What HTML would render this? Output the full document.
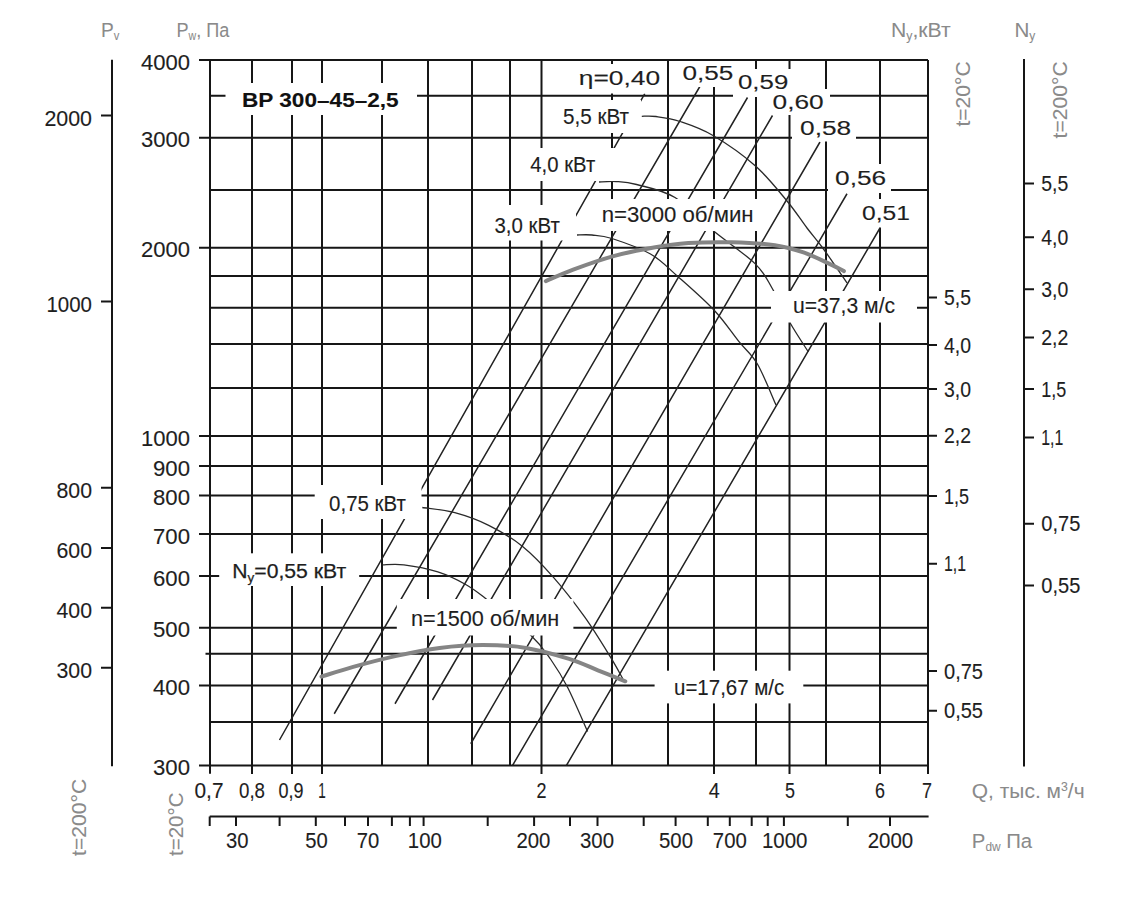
<!DOCTYPE html>
<html><head><meta charset="utf-8"><style>
html,body{margin:0;padding:0;background:#fff;}
svg{display:block;font-family:"Liberation Sans",sans-serif;}
</style></head><body>
<svg width="1146" height="920" viewBox="0 0 1146 920">
<rect width="1146" height="920" fill="#fff"/>
<path d="M252 60V765.5M292 60V765.5M322 60V765.5M382 60V765.5M428 60V765.5M472 60V765.5M510 60V765.5M541.5 60V765.5M612 60V765.5M668 60V765.5M714 60V765.5M756 60V765.5M789.5 60V765.5M826 60V765.5M880 60V765.5M210 95.75H928M210 137.75H928M210 190H928M210 247.75H928M210 276H928M210 307.75H928M210 344H928M210 388H928M210 436H928M210 466H928M210 495.5H928M210 534H928M210 576H928M210 627.75H928M210 653.75H928M210 685.5H928M210 722H928M210 60V773.75M928 60V774M199 60H928M199 765.5H928M199 137.75H210M199 247.75H210M199 436H210M199 466H210M199 495.5H210M199 534H210M199 576H210M199 627.75H210M199 685.5H210M205.5 653.75H210M252 765.5V774M292 765.5V774M322 765.5V774M541.5 765.5V774M714 765.5V774M789.5 765.5V774M880 765.5V774M928 297.5H937M928 345H937M928 389H937M928 435.7H937M928 496H937M928 563.7H937M928 671H937M928 710.8H937M112 59.7V766.2M101 115.6H112M101 301.6H112M101 487.8H112M101 547.9H112M101 607.8H112M101 667.8H112M1024 59V766.6M1024 183.5H1034M1024 237.2H1034M1024 289.3H1034M1024 337.6H1034M1024 389.1H1034M1024 437.4H1034M1024 523.7H1034M1024 585.6H1034M209.7 816.5H928.6M209.7 816.5V826M236 816.5V826M279.6 816.5V826M315.8 816.5V826M345 816.5V826M368 816.5V826M391.9 816.5V826M409.9 816.5V826M423.6 816.5V826M487.7 816.5V826M534.1 816.5V826M570 816.5V826M597.5 816.5V826M643.7 816.5V826M675.6 816.5V826M707.8 816.5V826M729.8 816.5V826M751.7 816.5V826M767.7 816.5V826M783.9 816.5V826M847.8 816.5V826M890 816.5V826" stroke="#161616" stroke-width="2.0" fill="none"/>
<path d="M279.5 740L644.8 93.7M334.25 713.75L700 86.25M395 703.75L747.5 97.5M432.5 700L772.5 115.5M470.75 743.75L820 142M512.5 765.5L847 193.75M566.4 765.5L880 228" stroke="#222" stroke-width="1.5" fill="none"/>
<path d="M641.8 116.3C644.2 116.3 649.6 115.6 656 116.5C662.4 117.4 670.5 118.3 680 121.5C689.5 124.7 700.4 128.1 713 135.5C725.6 142.9 743.2 155.1 755.5 166C767.8 176.9 778.4 190.7 787 201C795.6 211.3 800.9 220.0 807 228C813.1 236.0 816.8 239.8 823.5 249C830.2 258.2 843.1 277.3 847 283M599 182C601.8 181.9 609.7 181.1 616 181.5C622.3 181.9 626.8 181.8 636.6 184.5C646.4 187.2 662.3 189.8 675 197.5C687.7 205.2 699.7 219.5 713 230.5C726.3 241.5 745.2 254.0 755 263.6C764.8 273.2 766.2 278.1 772 288C777.8 297.9 783.9 312.1 790 322.8C796.1 333.5 805.3 347.1 808.4 352M577 235C579.5 235.0 586.2 234.4 592 235C597.8 235.6 602.2 235.3 612 238.5C621.8 241.7 639.5 247.7 650.5 254C661.5 260.3 667.1 267.1 677.8 276.5C688.4 285.9 704.2 299.6 714.4 310.5C724.6 321.4 731.8 332.8 739 341.7C746.2 350.6 751.2 353.4 757.4 364C763.6 374.6 772.9 398.2 776 405M422.3 507.5C427.7 508.4 443.7 509.6 454.8 512.6C465.9 515.6 477.4 519.6 488.7 525.3C500.0 530.9 511.8 537.8 522.6 546.5C533.4 555.2 543.3 565.8 553.7 577.6C564.1 589.4 575.4 604.0 584.8 617.2C594.2 630.4 603.9 646.4 610.2 656.7C616.6 667.0 620.8 675.3 622.9 679M382.7 564.9C386.2 564.9 394.7 563.7 403.9 564.9C413.1 566.1 427.4 568.6 437.8 571.9C448.2 575.2 458.1 580.2 466.1 584.7C474.1 589.2 475.1 590.3 485.9 598.8C496.7 607.3 520.2 625.4 531 635.5C541.8 645.6 544.7 650.8 550.8 659.5C556.9 668.2 561.7 675.8 567.8 687.8C573.9 699.8 584.3 724.3 587.6 731.6" stroke="#2a2a2a" stroke-width="1.3" fill="none"/>
<rect x="225.5" y="83" width="191.5" height="32" fill="#fff"/>
<rect x="572" y="64" width="94" height="29.5" fill="#fff"/>
<rect x="676" y="61" width="64" height="26" fill="#fff"/>
<rect x="733" y="69" width="62" height="28" fill="#fff"/>
<rect x="766" y="89" width="64" height="26" fill="#fff"/>
<rect x="792" y="114" width="64" height="27.5" fill="#fff"/>
<rect x="828" y="164" width="63" height="29" fill="#fff"/>
<rect x="856" y="199" width="60" height="28.5" fill="#fff"/>
<rect x="548" y="100" width="93" height="33" fill="#fff"/>
<rect x="517" y="148" width="108" height="33" fill="#fff"/>
<rect x="481" y="205" width="95" height="35.5" fill="#fff"/>
<rect x="590" y="199" width="175" height="32" fill="#fff"/>
<rect x="771" y="291" width="146" height="31.5" fill="#fff"/>
<rect x="314.7" y="485" width="106.80000000000001" height="34" fill="#fff"/>
<rect x="219.2" y="553.3" width="140.0" height="32.700000000000045" fill="#fff"/>
<rect x="396.8" y="599" width="176.59999999999997" height="36.5" fill="#fff"/>
<rect x="654.6" y="670.7" width="148.69999999999993" height="32.69999999999993" fill="#fff"/>
<path d="M545.8 281.1C550.4 279.2 561.9 273.8 573.2 269.6C584.5 265.4 600.1 259.8 613.5 256.1C626.9 252.4 641.3 249.7 653.8 247.5C666.3 245.3 675.4 244.0 688.4 243.1C701.4 242.2 717.2 242.0 731.6 242.3C746.0 242.7 762.8 243.5 774.8 245.2C786.8 246.9 794.4 249.3 803.5 252.4C812.6 255.5 822.8 260.8 829.5 263.9C836.2 267.0 841.5 269.9 843.9 271.1M321.5 676.6C326.8 675.0 340.7 670.4 353.2 666.9C365.7 663.4 382.0 659.1 396.4 655.9C410.8 652.7 425.2 649.7 439.6 647.9C454.0 646.1 468.4 645.0 482.8 645C497.2 645.0 511.6 645.6 526 647.9C540.4 650.2 557.1 655.1 569.1 658.8C581.1 662.5 588.5 666.5 597.9 670.3C607.3 674.0 620.7 679.5 625.3 681.3" stroke="#858585" stroke-width="4" fill="none" stroke-linecap="round"/>
<text x="141" y="69.5" font-size="21.3" fill="#1e1e1e" font-weight="normal" stroke="#1e1e1e" stroke-width="0.12" textLength="49.0" lengthAdjust="spacingAndGlyphs">4000</text>
<text x="141" y="147.25" font-size="21.3" fill="#1e1e1e" font-weight="normal" stroke="#1e1e1e" stroke-width="0.12" textLength="49.0" lengthAdjust="spacingAndGlyphs">3000</text>
<text x="141" y="257.25" font-size="21.3" fill="#1e1e1e" font-weight="normal" stroke="#1e1e1e" stroke-width="0.12" textLength="49.0" lengthAdjust="spacingAndGlyphs">2000</text>
<text x="141" y="445.5" font-size="21.3" fill="#1e1e1e" font-weight="normal" stroke="#1e1e1e" stroke-width="0.12" textLength="49.0" lengthAdjust="spacingAndGlyphs">1000</text>
<text x="153" y="475.5" font-size="21.3" fill="#1e1e1e" font-weight="normal" stroke="#1e1e1e" stroke-width="0.12" textLength="37.0" lengthAdjust="spacingAndGlyphs">900</text>
<text x="153" y="505.0" font-size="21.3" fill="#1e1e1e" font-weight="normal" stroke="#1e1e1e" stroke-width="0.12" textLength="37.0" lengthAdjust="spacingAndGlyphs">800</text>
<text x="153" y="543.5" font-size="21.3" fill="#1e1e1e" font-weight="normal" stroke="#1e1e1e" stroke-width="0.12" textLength="37.0" lengthAdjust="spacingAndGlyphs">700</text>
<text x="153" y="585.5" font-size="21.3" fill="#1e1e1e" font-weight="normal" stroke="#1e1e1e" stroke-width="0.12" textLength="37.0" lengthAdjust="spacingAndGlyphs">600</text>
<text x="153" y="637.25" font-size="21.3" fill="#1e1e1e" font-weight="normal" stroke="#1e1e1e" stroke-width="0.12" textLength="37.0" lengthAdjust="spacingAndGlyphs">500</text>
<text x="153" y="695.0" font-size="21.3" fill="#1e1e1e" font-weight="normal" stroke="#1e1e1e" stroke-width="0.12" textLength="37.0" lengthAdjust="spacingAndGlyphs">400</text>
<text x="153" y="775.0" font-size="21.3" fill="#1e1e1e" font-weight="normal" stroke="#1e1e1e" stroke-width="0.12" textLength="37.0" lengthAdjust="spacingAndGlyphs">300</text>
<text x="44.4" y="125.6" font-size="21.3" fill="#1e1e1e" font-weight="normal" stroke="#1e1e1e" stroke-width="0.12" textLength="47.6" lengthAdjust="spacingAndGlyphs">2000</text>
<text x="46.5" y="311.6" font-size="21.3" fill="#1e1e1e" font-weight="normal" stroke="#1e1e1e" stroke-width="0.12" textLength="45.5" lengthAdjust="spacingAndGlyphs">1000</text>
<text x="56.5" y="497.8" font-size="21.3" fill="#1e1e1e" font-weight="normal" stroke="#1e1e1e" stroke-width="0.12" textLength="35.5" lengthAdjust="spacingAndGlyphs">800</text>
<text x="56.5" y="557.9" font-size="21.3" fill="#1e1e1e" font-weight="normal" stroke="#1e1e1e" stroke-width="0.12" textLength="35.5" lengthAdjust="spacingAndGlyphs">600</text>
<text x="56.5" y="617.8" font-size="21.3" fill="#1e1e1e" font-weight="normal" stroke="#1e1e1e" stroke-width="0.12" textLength="35.5" lengthAdjust="spacingAndGlyphs">400</text>
<text x="56.5" y="677.8" font-size="21.3" fill="#1e1e1e" font-weight="normal" stroke="#1e1e1e" stroke-width="0.12" textLength="35.5" lengthAdjust="spacingAndGlyphs">300</text>
<text x="194.5" y="797.5" font-size="21.3" fill="#1e1e1e" font-weight="normal" stroke="#1e1e1e" stroke-width="0.12" textLength="29.0" lengthAdjust="spacingAndGlyphs">0,7</text>
<text x="239.0" y="797.5" font-size="21.3" fill="#1e1e1e" font-weight="normal" stroke="#1e1e1e" stroke-width="0.12" textLength="26.0" lengthAdjust="spacingAndGlyphs">0,8</text>
<text x="278.5" y="797.5" font-size="21.3" fill="#1e1e1e" font-weight="normal" stroke="#1e1e1e" stroke-width="0.12" textLength="25.0" lengthAdjust="spacingAndGlyphs">0,9</text>
<text x="318.25" y="797.5" font-size="21.3" fill="#1e1e1e" font-weight="normal" stroke="#1e1e1e" stroke-width="0.12" textLength="7.5" lengthAdjust="spacingAndGlyphs">1</text>
<text x="536.6" y="797.5" font-size="21.3" fill="#1e1e1e" font-weight="normal" stroke="#1e1e1e" stroke-width="0.12" textLength="10.0" lengthAdjust="spacingAndGlyphs">2</text>
<text x="708.8" y="797.5" font-size="21.3" fill="#1e1e1e" font-weight="normal" stroke="#1e1e1e" stroke-width="0.12" textLength="11.0" lengthAdjust="spacingAndGlyphs">4</text>
<text x="785.0" y="797.5" font-size="21.3" fill="#1e1e1e" font-weight="normal" stroke="#1e1e1e" stroke-width="0.12" textLength="10.0" lengthAdjust="spacingAndGlyphs">5</text>
<text x="875.0" y="797.5" font-size="21.3" fill="#1e1e1e" font-weight="normal" stroke="#1e1e1e" stroke-width="0.12" textLength="10.0" lengthAdjust="spacingAndGlyphs">6</text>
<text x="922.0" y="797.5" font-size="21.3" fill="#1e1e1e" font-weight="normal" stroke="#1e1e1e" stroke-width="0.12" textLength="10.0" lengthAdjust="spacingAndGlyphs">7</text>
<text x="225.95" y="848" font-size="21.3" fill="#1e1e1e" font-weight="normal" stroke="#1e1e1e" stroke-width="0.12" textLength="22.5" lengthAdjust="spacingAndGlyphs">30</text>
<text x="305.25" y="848" font-size="21.3" fill="#1e1e1e" font-weight="normal" stroke="#1e1e1e" stroke-width="0.12" textLength="22.5" lengthAdjust="spacingAndGlyphs">50</text>
<text x="356.75" y="848" font-size="21.3" fill="#1e1e1e" font-weight="normal" stroke="#1e1e1e" stroke-width="0.12" textLength="22.5" lengthAdjust="spacingAndGlyphs">70</text>
<text x="407.8" y="848" font-size="21.3" fill="#1e1e1e" font-weight="normal" stroke="#1e1e1e" stroke-width="0.12" textLength="34.0" lengthAdjust="spacingAndGlyphs">100</text>
<text x="516.4" y="848" font-size="21.3" fill="#1e1e1e" font-weight="normal" stroke="#1e1e1e" stroke-width="0.12" textLength="34.0" lengthAdjust="spacingAndGlyphs">200</text>
<text x="580.0" y="848" font-size="21.3" fill="#1e1e1e" font-weight="normal" stroke="#1e1e1e" stroke-width="0.12" textLength="34.0" lengthAdjust="spacingAndGlyphs">300</text>
<text x="659.0" y="848" font-size="21.3" fill="#1e1e1e" font-weight="normal" stroke="#1e1e1e" stroke-width="0.12" textLength="34.0" lengthAdjust="spacingAndGlyphs">500</text>
<text x="712.8" y="848" font-size="21.3" fill="#1e1e1e" font-weight="normal" stroke="#1e1e1e" stroke-width="0.12" textLength="34.0" lengthAdjust="spacingAndGlyphs">700</text>
<text x="761.95" y="848" font-size="21.3" fill="#1e1e1e" font-weight="normal" stroke="#1e1e1e" stroke-width="0.12" textLength="45.5" lengthAdjust="spacingAndGlyphs">1000</text>
<text x="867.65" y="848" font-size="21.3" fill="#1e1e1e" font-weight="normal" stroke="#1e1e1e" stroke-width="0.12" textLength="45.5" lengthAdjust="spacingAndGlyphs">2000</text>
<text x="944" y="305.0" font-size="21.3" fill="#1e1e1e" font-weight="normal" stroke="#1e1e1e" stroke-width="0.12" textLength="27.0" lengthAdjust="spacingAndGlyphs">5,5</text>
<text x="944" y="352.5" font-size="21.3" fill="#1e1e1e" font-weight="normal" stroke="#1e1e1e" stroke-width="0.12" textLength="27.0" lengthAdjust="spacingAndGlyphs">4,0</text>
<text x="944" y="396.5" font-size="21.3" fill="#1e1e1e" font-weight="normal" stroke="#1e1e1e" stroke-width="0.12" textLength="27.0" lengthAdjust="spacingAndGlyphs">3,0</text>
<text x="944" y="443.2" font-size="21.3" fill="#1e1e1e" font-weight="normal" stroke="#1e1e1e" stroke-width="0.12" textLength="27.0" lengthAdjust="spacingAndGlyphs">2,2</text>
<text x="944" y="503.5" font-size="21.3" fill="#1e1e1e" font-weight="normal" stroke="#1e1e1e" stroke-width="0.12" textLength="25.0" lengthAdjust="spacingAndGlyphs">1,5</text>
<text x="944" y="571.2" font-size="21.3" fill="#1e1e1e" font-weight="normal" stroke="#1e1e1e" stroke-width="0.12" textLength="22.0" lengthAdjust="spacingAndGlyphs">1,1</text>
<text x="944" y="678.5" font-size="21.3" fill="#1e1e1e" font-weight="normal" stroke="#1e1e1e" stroke-width="0.12" textLength="39.0" lengthAdjust="spacingAndGlyphs">0,75</text>
<text x="944" y="718.3" font-size="21.3" fill="#1e1e1e" font-weight="normal" stroke="#1e1e1e" stroke-width="0.12" textLength="39.0" lengthAdjust="spacingAndGlyphs">0,55</text>
<text x="1041.3" y="191.0" font-size="21.3" fill="#1e1e1e" font-weight="normal" stroke="#1e1e1e" stroke-width="0.12" textLength="27.0" lengthAdjust="spacingAndGlyphs">5,5</text>
<text x="1041.3" y="244.7" font-size="21.3" fill="#1e1e1e" font-weight="normal" stroke="#1e1e1e" stroke-width="0.12" textLength="27.0" lengthAdjust="spacingAndGlyphs">4,0</text>
<text x="1041.3" y="296.8" font-size="21.3" fill="#1e1e1e" font-weight="normal" stroke="#1e1e1e" stroke-width="0.12" textLength="27.0" lengthAdjust="spacingAndGlyphs">3,0</text>
<text x="1041.3" y="345.1" font-size="21.3" fill="#1e1e1e" font-weight="normal" stroke="#1e1e1e" stroke-width="0.12" textLength="27.0" lengthAdjust="spacingAndGlyphs">2,2</text>
<text x="1041.3" y="396.6" font-size="21.3" fill="#1e1e1e" font-weight="normal" stroke="#1e1e1e" stroke-width="0.12" textLength="25.0" lengthAdjust="spacingAndGlyphs">1,5</text>
<text x="1041.3" y="444.9" font-size="21.3" fill="#1e1e1e" font-weight="normal" stroke="#1e1e1e" stroke-width="0.12" textLength="22.0" lengthAdjust="spacingAndGlyphs">1,1</text>
<text x="1041.3" y="531.2" font-size="21.3" fill="#1e1e1e" font-weight="normal" stroke="#1e1e1e" stroke-width="0.12" textLength="39.0" lengthAdjust="spacingAndGlyphs">0,75</text>
<text x="1041.3" y="593.1" font-size="21.3" fill="#1e1e1e" font-weight="normal" stroke="#1e1e1e" stroke-width="0.12" textLength="39.0" lengthAdjust="spacingAndGlyphs">0,55</text>
<text x="242" y="107" font-size="21" fill="#111" font-weight="bold" stroke="#111" stroke-width="0.12" textLength="156.7" lengthAdjust="spacingAndGlyphs">BP 300–45–2,5</text>
<text x="578.8" y="85.4" font-size="20" fill="#1e1e1e" font-weight="normal" stroke="#1e1e1e" stroke-width="0.12" textLength="81.3" lengthAdjust="spacingAndGlyphs">η=0,40</text>
<text x="682.5" y="80.4" font-size="20" fill="#1e1e1e" font-weight="normal" stroke="#1e1e1e" stroke-width="0.12" textLength="50.9" lengthAdjust="spacingAndGlyphs">0,55</text>
<text x="738" y="88.8" font-size="20" fill="#1e1e1e" font-weight="normal" stroke="#1e1e1e" stroke-width="0.12" textLength="50.3" lengthAdjust="spacingAndGlyphs">0,59</text>
<text x="772.5" y="109.2" font-size="20" fill="#1e1e1e" font-weight="normal" stroke="#1e1e1e" stroke-width="0.12" textLength="51.2" lengthAdjust="spacingAndGlyphs">0,60</text>
<text x="800" y="135.4" font-size="20" fill="#1e1e1e" font-weight="normal" stroke="#1e1e1e" stroke-width="0.12" textLength="51.2" lengthAdjust="spacingAndGlyphs">0,58</text>
<text x="835" y="185.4" font-size="20" fill="#1e1e1e" font-weight="normal" stroke="#1e1e1e" stroke-width="0.12" textLength="51.2" lengthAdjust="spacingAndGlyphs">0,56</text>
<text x="862" y="220.4" font-size="20" fill="#1e1e1e" font-weight="normal" stroke="#1e1e1e" stroke-width="0.12" textLength="48.0" lengthAdjust="spacingAndGlyphs">0,51</text>
<text x="563" y="124" font-size="21.3" fill="#1e1e1e" font-weight="normal" stroke="#1e1e1e" stroke-width="0.12" textLength="66.0" lengthAdjust="spacingAndGlyphs">5,5 кВт</text>
<text x="530.3" y="172" font-size="21.3" fill="#1e1e1e" font-weight="normal" stroke="#1e1e1e" stroke-width="0.12" textLength="64.9" lengthAdjust="spacingAndGlyphs">4,0 кВт</text>
<text x="494.4" y="232.5" font-size="21.3" fill="#1e1e1e" font-weight="normal" stroke="#1e1e1e" stroke-width="0.12" textLength="65.4" lengthAdjust="spacingAndGlyphs">3,0 кВт</text>
<text x="601.7" y="221.8" font-size="21.3" fill="#1e1e1e" font-weight="normal" stroke="#1e1e1e" stroke-width="0.12" textLength="151.9" lengthAdjust="spacingAndGlyphs">n=3000 об/мин</text>
<text x="793" y="312.8" font-size="21.3" fill="#1e1e1e" font-weight="normal" stroke="#1e1e1e" stroke-width="0.12" textLength="102.1" lengthAdjust="spacingAndGlyphs">u=37,3 м/с</text>
<text x="329.1" y="511" font-size="21.3" fill="#1e1e1e" font-weight="normal" stroke="#1e1e1e" stroke-width="0.12" textLength="76.7" lengthAdjust="spacingAndGlyphs">0,75 кВт</text>
<text x="411" y="625.5" font-size="21.3" fill="#1e1e1e" font-weight="normal" stroke="#1e1e1e" stroke-width="0.12" textLength="148.3" lengthAdjust="spacingAndGlyphs">n=1500 об/мин</text>
<text x="674" y="694.8" font-size="21.3" fill="#1e1e1e" font-weight="normal" stroke="#1e1e1e" stroke-width="0.12" textLength="110.3" lengthAdjust="spacingAndGlyphs">u=17,67 м/с</text>
<text x="232.3" y="577.5" font-size="20.5" fill="#1e1e1e" stroke="#1e1e1e" stroke-width="0.25" textLength="113.8" lengthAdjust="spacingAndGlyphs">N<tspan font-size="13" dy="4">y</tspan><tspan dy="-4">=0,55 кВт</tspan></text>
<text x="101" y="37" font-size="20.5" fill="#8a8a8a" stroke="#8a8a8a" stroke-width="0.05" textLength="18.4" lengthAdjust="spacingAndGlyphs">P<tspan font-size="12" dy="3">v</tspan></text>
<text x="176.5" y="37" font-size="20.5" fill="#8a8a8a" stroke="#8a8a8a" stroke-width="0.05" textLength="52.8" lengthAdjust="spacingAndGlyphs">P<tspan font-size="12" dy="3">w</tspan><tspan dy="-3">, Па</tspan></text>
<text x="891" y="37" font-size="20.5" fill="#8a8a8a" stroke="#8a8a8a" stroke-width="0.05" textLength="59.7" lengthAdjust="spacingAndGlyphs">N<tspan font-size="12" dy="3">y</tspan><tspan dy="-3">,кВт</tspan></text>
<text x="1014.5" y="37" font-size="20.5" fill="#8a8a8a" stroke="#8a8a8a" stroke-width="0.05" textLength="20.9" lengthAdjust="spacingAndGlyphs">N<tspan font-size="12" dy="3">y</tspan></text>
<text x="971.8" y="798" font-size="20.5" fill="#8a8a8a" stroke="#8a8a8a" stroke-width="0.05" textLength="112.8" lengthAdjust="spacingAndGlyphs">Q, тыс. м<tspan font-size="12" dy="-7">3</tspan><tspan dy="7">/ч</tspan></text>
<text x="971.8" y="848" font-size="20.5" fill="#8a8a8a" stroke="#8a8a8a" stroke-width="0.05" textLength="60.4" lengthAdjust="spacingAndGlyphs">P<tspan font-size="12" dy="3">dw</tspan><tspan dy="-3"> Па</tspan></text>
<text transform="translate(969.5 126.6) rotate(-90)" x="0" y="0" font-size="20.5" fill="#8a8a8a" stroke="#8a8a8a" stroke-width="0.05" textLength="65.4" lengthAdjust="spacingAndGlyphs">t=20°C</text>
<text transform="translate(1067.2 138.4) rotate(-90)" x="0" y="0" font-size="20.5" fill="#8a8a8a" stroke="#8a8a8a" stroke-width="0.05" textLength="77.2" lengthAdjust="spacingAndGlyphs">t=200°C</text>
<text transform="translate(86 856) rotate(-90)" x="0" y="0" font-size="20.5" fill="#8a8a8a" stroke="#8a8a8a" stroke-width="0.05" textLength="77.3" lengthAdjust="spacingAndGlyphs">t=200°C</text>
<text transform="translate(183.3 856) rotate(-90)" x="0" y="0" font-size="20.5" fill="#8a8a8a" stroke="#8a8a8a" stroke-width="0.05" textLength="63.6" lengthAdjust="spacingAndGlyphs">t=20°C</text>
</svg></body></html>
